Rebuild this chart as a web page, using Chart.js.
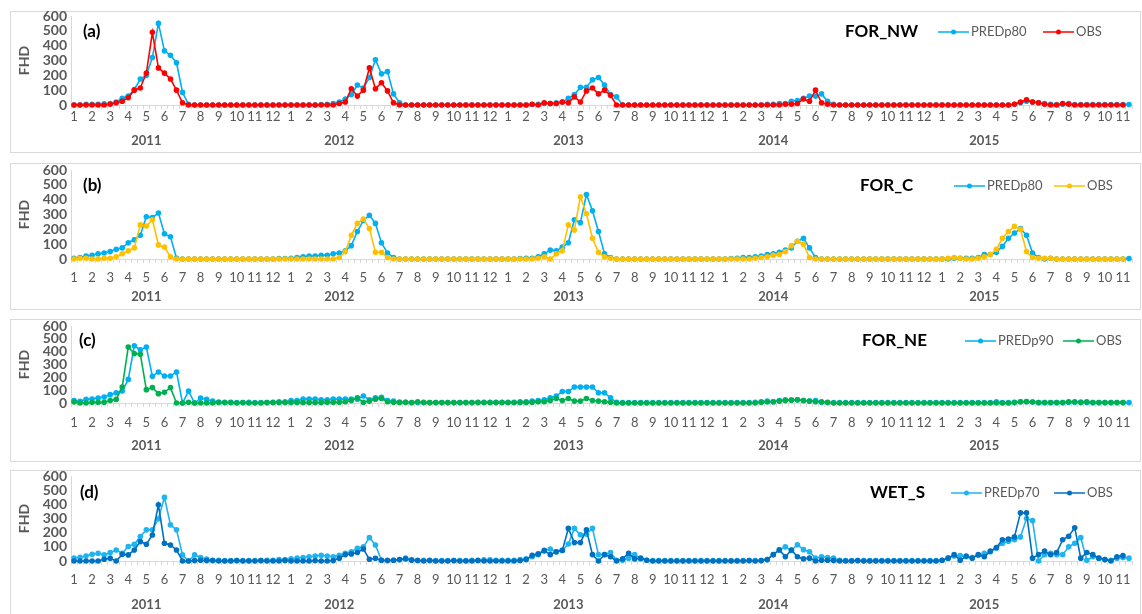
<!DOCTYPE html>
<html><head><meta charset="utf-8">
<script src="https://cdn.jsdelivr.net/npm/chart.js@4/dist/chart.umd.min.js"></script>
<style>
html,body{margin:0;padding:0;background:#fff;width:1142px;height:614px;overflow:hidden;position:relative;}
.box{position:absolute;left:10px;width:1131px;border:1px solid #d9d9d9;box-sizing:border-box;}
canvas.c{position:absolute;left:0;}
</style></head><body>
<script>
// ---- categories: dekads (3 per month) Jan 2011 .. Nov 2015 ----
const years = [2011, 2012, 2013, 2014, 2015];
const monthsInYear = [12, 12, 12, 12, 11];
const dekadsPerMonth = 3;
const lastMonthDekads = 2;
const yearLabelIndex = [12, 44, 82, 116, 151];

// ---- series values (FHD) ----
const predA = [
 0,0,5, 5,5,8, 10,20,45, 60,105,175, 200,320,550, 365,335,285, 85,5,0, 0,0,0, 0,0,0, 0,0,0, 0,0,0, 0,0,0,
 0,0,0, 0,0,3, 5,10,20, 40,70,135, 115,185,305, 210,225,75, 15,0,0, 0,0,0, 0,0,0, 0,0,0, 0,0,0, 0,0,0,
 0,0,0, 0,3,5, 10,10,15, 20,45,70, 120,120,170, 185,135,70, 55,0,0, 0,0,0, 0,0,0, 0,0,0, 0,0,0, 0,0,0,
 0,0,0, 0,0,0, 0,5,5, 10,10,25, 30,45,60, 60,75,25, 5,0,0, 0,0,0, 0,0,0, 0,0,0, 0,0,0, 0,0,0,
 0,0,0, 0,0,0, 0,0,0, 0,0,0, 5,15,25, 20,15,10, 5,3,5, 10,3,3, 3,3,3, 3,3,3, 3,3
];
const obsA = [
 0,0,0, 0,0,0, 5,15,25, 50,100,115, 215,490,250, 215,175,100, 15,0,0, 0,0,0, 0,0,0, 0,0,0, 0,0,0, 0,0,0,
 0,0,0, 0,0,0, 0,0,10, 20,110,60, 100,250,110, 150,95,15, 0,0,0, 0,0,0, 0,0,0, 0,0,0, 0,0,0, 0,0,0,
 0,0,0, 0,5,0, 15,10,10, 20,15,55, 20,95,115, 75,100,65, 0,0,0, 0,0,0, 0,0,0, 0,0,0, 0,0,0, 0,0,0,
 0,0,0, 0,0,0, 0,0,0, 0,5,5, 10,40,25, 100,15,5, 0,0,0, 0,0,0, 0,0,0, 0,0,0, 0,0,0, 0,0,0,
 0,0,0, 0,0,0, 0,0,0, 0,0,0, 5,20,35, 20,15,5, 0,0,10, 5,0,0, 0,0,0, 0,0,0, 0
];
const predB = [
 5,10,20, 25,35,40, 50,65,75, 110,130,160, 285,280,310, 170,150,5, 0,0,0, 0,0,0, 0,0,0, 0,0,0, 0,0,0, 0,3,3,
 5,10,15, 20,20,25, 25,35,40, 55,90,185, 260,295,240, 110,40,10, 0,0,0, 0,0,0, 0,0,0, 0,0,0, 0,0,0, 0,0,0,
 0,0,3, 5,5,15, 35,60,55, 80,110,265, 245,435,325, 185,35,10, 0,0,0, 0,0,0, 0,0,0, 0,0,0, 0,0,0, 0,0,0,
 0,3,5, 10,10,15, 20,30,35, 45,60,75, 120,140,75, 10,0,0, 0,0,0, 0,0,0, 0,0,0, 0,0,0, 0,0,0, 0,0,0,
 0,0,5, 5,5,5, 10,30,30, 45,85,140, 175,205,160, 40,10,0, 5,0,0, 0,0,0, 0,0,0, 0,0,0, 0,3
];
const obsB = [
 0,5,5, 0,0,5, 5,15,35, 55,75,230, 222,265,95, 80,15,0, 0,0,0, 0,0,0, 0,0,0, 0,0,0, 0,0,0, 0,0,0,
 0,0,0, 0,0,0, 0,0,10, 50,160,240, 270,205,45, 45,10,0, 0,0,0, 0,0,0, 0,0,0, 0,0,0, 0,0,0, 0,0,0,
 0,0,0, 0,0,5, 15,0,35, 55,230,195, 420,305,140, 45,15,5, 0,0,0, 0,0,0, 0,0,0, 0,0,0, 0,0,0, 0,0,0,
 0,0,0, 0,0,5, 10,15,25, 30,50,90, 120,100,10, 0,0,0, 0,0,0, 0,0,0, 0,0,0, 0,0,0, 0,0,0, 0,0,0,
 0,5,10, 5,0,0, 5,15,30, 65,140,185, 220,200,50, 10,5,5, 5,0,0, 0,0,0, 0,0,0, 0,0,0, 0
];
const predC = [
 20,13,28, 31,39,47, 65,80,93, 184,446,415, 436,208,242, 210,210,242, 0,93,0, 39,28,15, 8,5,5, 3,3,5, 3,3,3, 5,10,10,
 20,20,30, 30,30,25, 25,30,30, 30,30,30, 55,25,40, 45,20,15, 8,5,3, 3,5,3, 3,3,3, 3,3,3, 3,5,5, 5,5,5,
 5,5,10, 10,15,20, 25,40,55, 90,90,125, 125,125,125, 80,80,40, 5,3,3, 3,3,3, 3,3,3, 3,3,3, 3,3,3, 3,3,3,
 3,3,3, 3,3,5, 10,15,10, 20,25,25, 25,20,15, 20,5,3, 3,3,3, 3,3,3, 3,3,3, 3,3,3, 3,3,3, 3,3,3,
 3,3,3, 3,3,3, 3,3,3, 10,3,3, 5,10,10, 8,3,3, 3,3,3, 5,5,8, 3,3,3, 3,3,3, 3,3
];
const obsC = [
 8,0,0, 5,5,5, 20,28,125, 436,385,380, 104,120,73, 83,120,0, 0,5,0, 0,0,0, 3,3,3, 0,3,0, 0,0,3, 3,3,3,
 3,3,3, 3,3,3, 5,5,5, 10,20,40, 5,15,30, 35,10,5, 3,5,3, 10,3,3, 3,3,3, 3,3,3, 3,3,3, 3,3,3,
 3,3,3, 3,5,10, 10,20,35, 20,35,15, 15,35,20, 15,10,5, 0,0,0, 0,0,0, 0,0,0, 0,0,0, 0,0,0, 0,0,0,
 0,0,0, 0,0,0, 5,8,10, 15,20,22, 25,20,15, 10,10,5, 0,0,0, 0,0,0, 0,0,0, 0,0,0, 0,0,0, 0,0,0,
 0,0,0, 0,0,0, 0,0,0, 0,0,0, 3,10,12, 8,3,3, 3,3,3, 10,10,3, 10,3,3, 3,3,3, 3
];
const predD = [
 20,26,35, 47,54,43, 59,78,54, 102,118,173, 220,220,298, 449,255,220, 43,0,43, 24,14,5, 5,3,3, 3,3,3, 3,3,5, 5,10,10,
 15,20,25, 30,35,40, 35,30,40, 55,65,90, 100,165,113, 5,5,5, 10,20,10, 5,5,5, 3,3,3, 3,3,3, 5,5,8, 8,5,5,
 5,5,10, 15,30,45, 70,85,65, 75,120,230, 185,190,230, 45,45,60, 5,5,20, 45,15,5, 3,3,3, 3,3,3, 3,3,3, 3,3,3,
 3,3,3, 3,3,3, 3,10,45, 80,100,75, 115,80,65, 20,30,25, 20,5,3, 3,3,3, 3,3,3, 3,3,3, 3,3,3, 3,3,3,
 5,20,35, 38,30,25, 40,55,65, 90,125,140, 150,170,300, 285,0,45, 55,45,45, 100,125,165, 5,30,20, 10,5,20, 25,20
];
const obsD = [
 0,0,0, 0,0,12, 19,0,47, 43,78,137, 118,184,397, 125,113,78, 0,0,3, 5,3,3, 0,0,0, 3,0,0, 0,3,0, 0,0,3,
 0,0,0, 0,3,0, 0,3,20, 45,50,60, 85,12,19, 5,3,5, 10,15,5, 3,0,3, 0,0,0, 3,0,0, 0,3,0, 0,0,0,
 0,0,3, 10,40,50, 75,45,65, 75,230,130, 130,220,45, 0,45,30, 0,15,55, 15,20,5, 0,0,0, 0,0,0, 0,0,0, 0,0,0,
 0,0,0, 0,3,0, 3,10,45, 78,30,78, 30,15,20, 0,5,5, 3,0,0, 0,3,0, 0,0,0, 0,0,0, 0,0,0, 0,0,0,
 5,20,45, 5,35,20, 45,30,70, 95,150,155, 170,340,340, 20,45,70, 45,60,150, 175,235,20, 60,45,20, 10,0,30, 38
];

// ---- tick labels ----
const yTickValues = [0, 100, 200, 300, 400, 500, 600];
const categories = [];
const monthTickLabels = [];
const yearTickLabels = [];
years.forEach((y, yi) => {
  for (let m = 1; m <= monthsInYear[yi]; m++) {
    const nd = (yi === years.length - 1 && m === monthsInYear[yi]) ? lastMonthDekads : dekadsPerMonth;
    for (let d = 1; d <= nd; d++) {
      categories.push(y + '-' + m + '-' + d);
      monthTickLabels.push(d === 1 ? String(m) : '');
      yearTickLabels.push('');
    }
  }
});
yearLabelIndex.forEach((idx, k) => { yearTickLabels[idx] = String(years[k]); });

const tags = ['(a)', '(b)', '(c)', '(d)'];
const titles = ['FOR_NW', 'FOR_C', 'FOR_NE', 'WET_S'];
const predNames = ['PREDp80', 'PREDp80', 'PREDp90', 'PREDp70'];
const predSeries = [predA, predB, predC, predD];
const obsSeries = [obsA, obsB, obsC, obsD];
const predColors = ['#00B0F0', '#00B0F0', '#00B0F0', '#1FB4F0'];
const obsColors = ['#FF0000', '#FFC000', '#00B050', '#0070C0'];

// ---- layout (page pixels) ----
const layout = [
  {boxTop: 11,  boxH: 142, yTop: 16,  y0: 105, xH: 22, xPad: 0, x2Pad: 6,  textY: 32,  tagX: 83, titleX: 845, leg: [938, 1043]},
  {boxTop: 163, boxH: 147, yTop: 170, y0: 259, xH: 28, xPad: 7, x2Pad: 2,  textY: 186, tagX: 83, titleX: 860, leg: [954, 1054]},
  {boxTop: 319, boxH: 143, yTop: 326, y0: 403, xH: 28, xPad: 8, x2Pad: 7,  textY: 341, tagX: 79, titleX: 862, leg: [965, 1063]},
  {boxTop: 470, boxH: 150, yTop: 476, y0: 561, xH: 28, xPad: 7, x2Pad: 8,  textY: 493, tagX: 80, titleX: 870, leg: [951, 1054]}
];

const FONT = 'Lato, "Open Sans", sans-serif';
const GREY = '#595959';

const decor = {
  id: 'decor',
  afterDraw(chart, args, o) {
    const ctx = chart.ctx;
    ctx.save();
    ctx.textBaseline = 'middle';
    ctx.textAlign = 'left';
    ctx.fillStyle = '#000';
    ctx.font = 'bold 17px ' + FONT;
    ctx.fillText(o.tag, o.tagX, o.y);
    ctx.fillText(o.title, o.titleX, o.y);
    ctx.font = '13px ' + FONT;
    o.leg.forEach((lx, k) => {
      const ds = chart.data.datasets[k];
      ctx.strokeStyle = ds.borderColor;
      ctx.lineWidth = 1.5;
      ctx.beginPath(); ctx.moveTo(lx, o.y); ctx.lineTo(lx + 31, o.y); ctx.stroke();
      ctx.fillStyle = ds.borderColor;
      ctx.beginPath(); ctx.arc(lx + 15.5, o.y, 2.5, 0, Math.PI * 2); ctx.fill();
      ctx.fillStyle = GREY;
      ctx.fillText(ds.label, lx + 33, o.y);
    });
    ctx.restore();
  }
};

layout.forEach((L, p) => {
  const box = document.createElement('div');
  box.className = 'box';
  box.style.top = L.boxTop + 'px';
  box.style.height = L.boxH + 'px';
  document.body.appendChild(box);

  const H = L.boxH;
  const cv = document.createElement('canvas');
  cv.className = 'c';
  cv.width = 1142; cv.height = H;
  cv.style.top = L.boxTop + 'px';
  cv.style.width = '1142px'; cv.style.height = H + 'px';
  document.body.appendChild(cv);

  const padTop = L.yTop - L.boxTop;
  const chartH = L.y0 - L.yTop;
  const xH = L.xH;
  const x2H = H - padTop - chartH - xH;

  const mkDs = (label, data, color, order) => ({
    label, data, order, borderColor: color, backgroundColor: color,
    borderWidth: 1.6, pointRadius: 2.8, pointHoverRadius: 2.8,
    pointBorderWidth: 0, pointBackgroundColor: color, tension: 0, clip: false
  });

  new Chart(cv, {
    type: 'line',
    data: {
      labels: categories,
      datasets: [
        mkDs(predNames[p], predSeries[p], predColors[p], 1),
        mkDs('OBS', obsSeries[p], obsColors[p], 0)
      ]
    },
    options: {
      responsive: false, animation: false, devicePixelRatio: 1,
      layout: {padding: {left: 11, right: 10, top: padTop, bottom: 0}},
      plugins: {
        legend: {display: false}, tooltip: {enabled: false},
        decor: {tag: tags[p], title: titles[p], tagX: L.tagX, titleX: L.titleX, leg: L.leg, y: L.textY - L.boxTop}
      },
      scales: {
        x: {
          type: 'category', offset: true, position: 'bottom',
          grid: {display: true, drawOnChartArea: false, drawTicks: true, tickLength: 4, offset: true, color: '#d9d9d9', lineWidth: 1},
          border: {display: true, color: '#d9d9d9', width: 1},
          ticks: {autoSkip: false, maxRotation: 0, minRotation: 0, padding: L.xPad, color: GREY,
                  font: {family: FONT, size: 13}, callback: (v, i) => monthTickLabels[i]},
          afterFit: s => { s.height = xH; s.paddingLeft = 0; s.paddingRight = 0; }
        },
        x2: {
          type: 'category', offset: true, position: 'bottom',
          grid: {display: false, drawTicks: false, drawOnChartArea: false},
          border: {display: false},
          ticks: {autoSkip: false, maxRotation: 0, minRotation: 0, padding: L.x2Pad, color: GREY,
                  font: {family: FONT, size: 13, weight: 'bold'}, callback: (v, i) => yearTickLabels[i]},
          afterFit: s => { s.height = x2H; s.paddingLeft = 0; s.paddingRight = 0; }
        },
        y: {
          min: 0, max: 600,
          afterBuildTicks: s => { s.ticks = yTickValues.map(v => ({value: v})); },
          grid: {display: false, drawTicks: false},
          border: {display: true, color: '#d9d9d9', width: 1},
          ticks: {autoSkip: false, padding: 4, color: GREY, font: {family: FONT, size: 14, weight: 'bold'}},
          title: {display: true, text: 'FHD', color: GREY, font: {family: FONT, size: 14, weight: 'bold'}, padding: {top: 5, bottom: 0}},
          afterFit: s => { s.width = 60; s.paddingTop = 0; s.paddingBottom = 0; }
        }
      }
    },
    plugins: [decor]
  });
});
</script>
</body></html>
